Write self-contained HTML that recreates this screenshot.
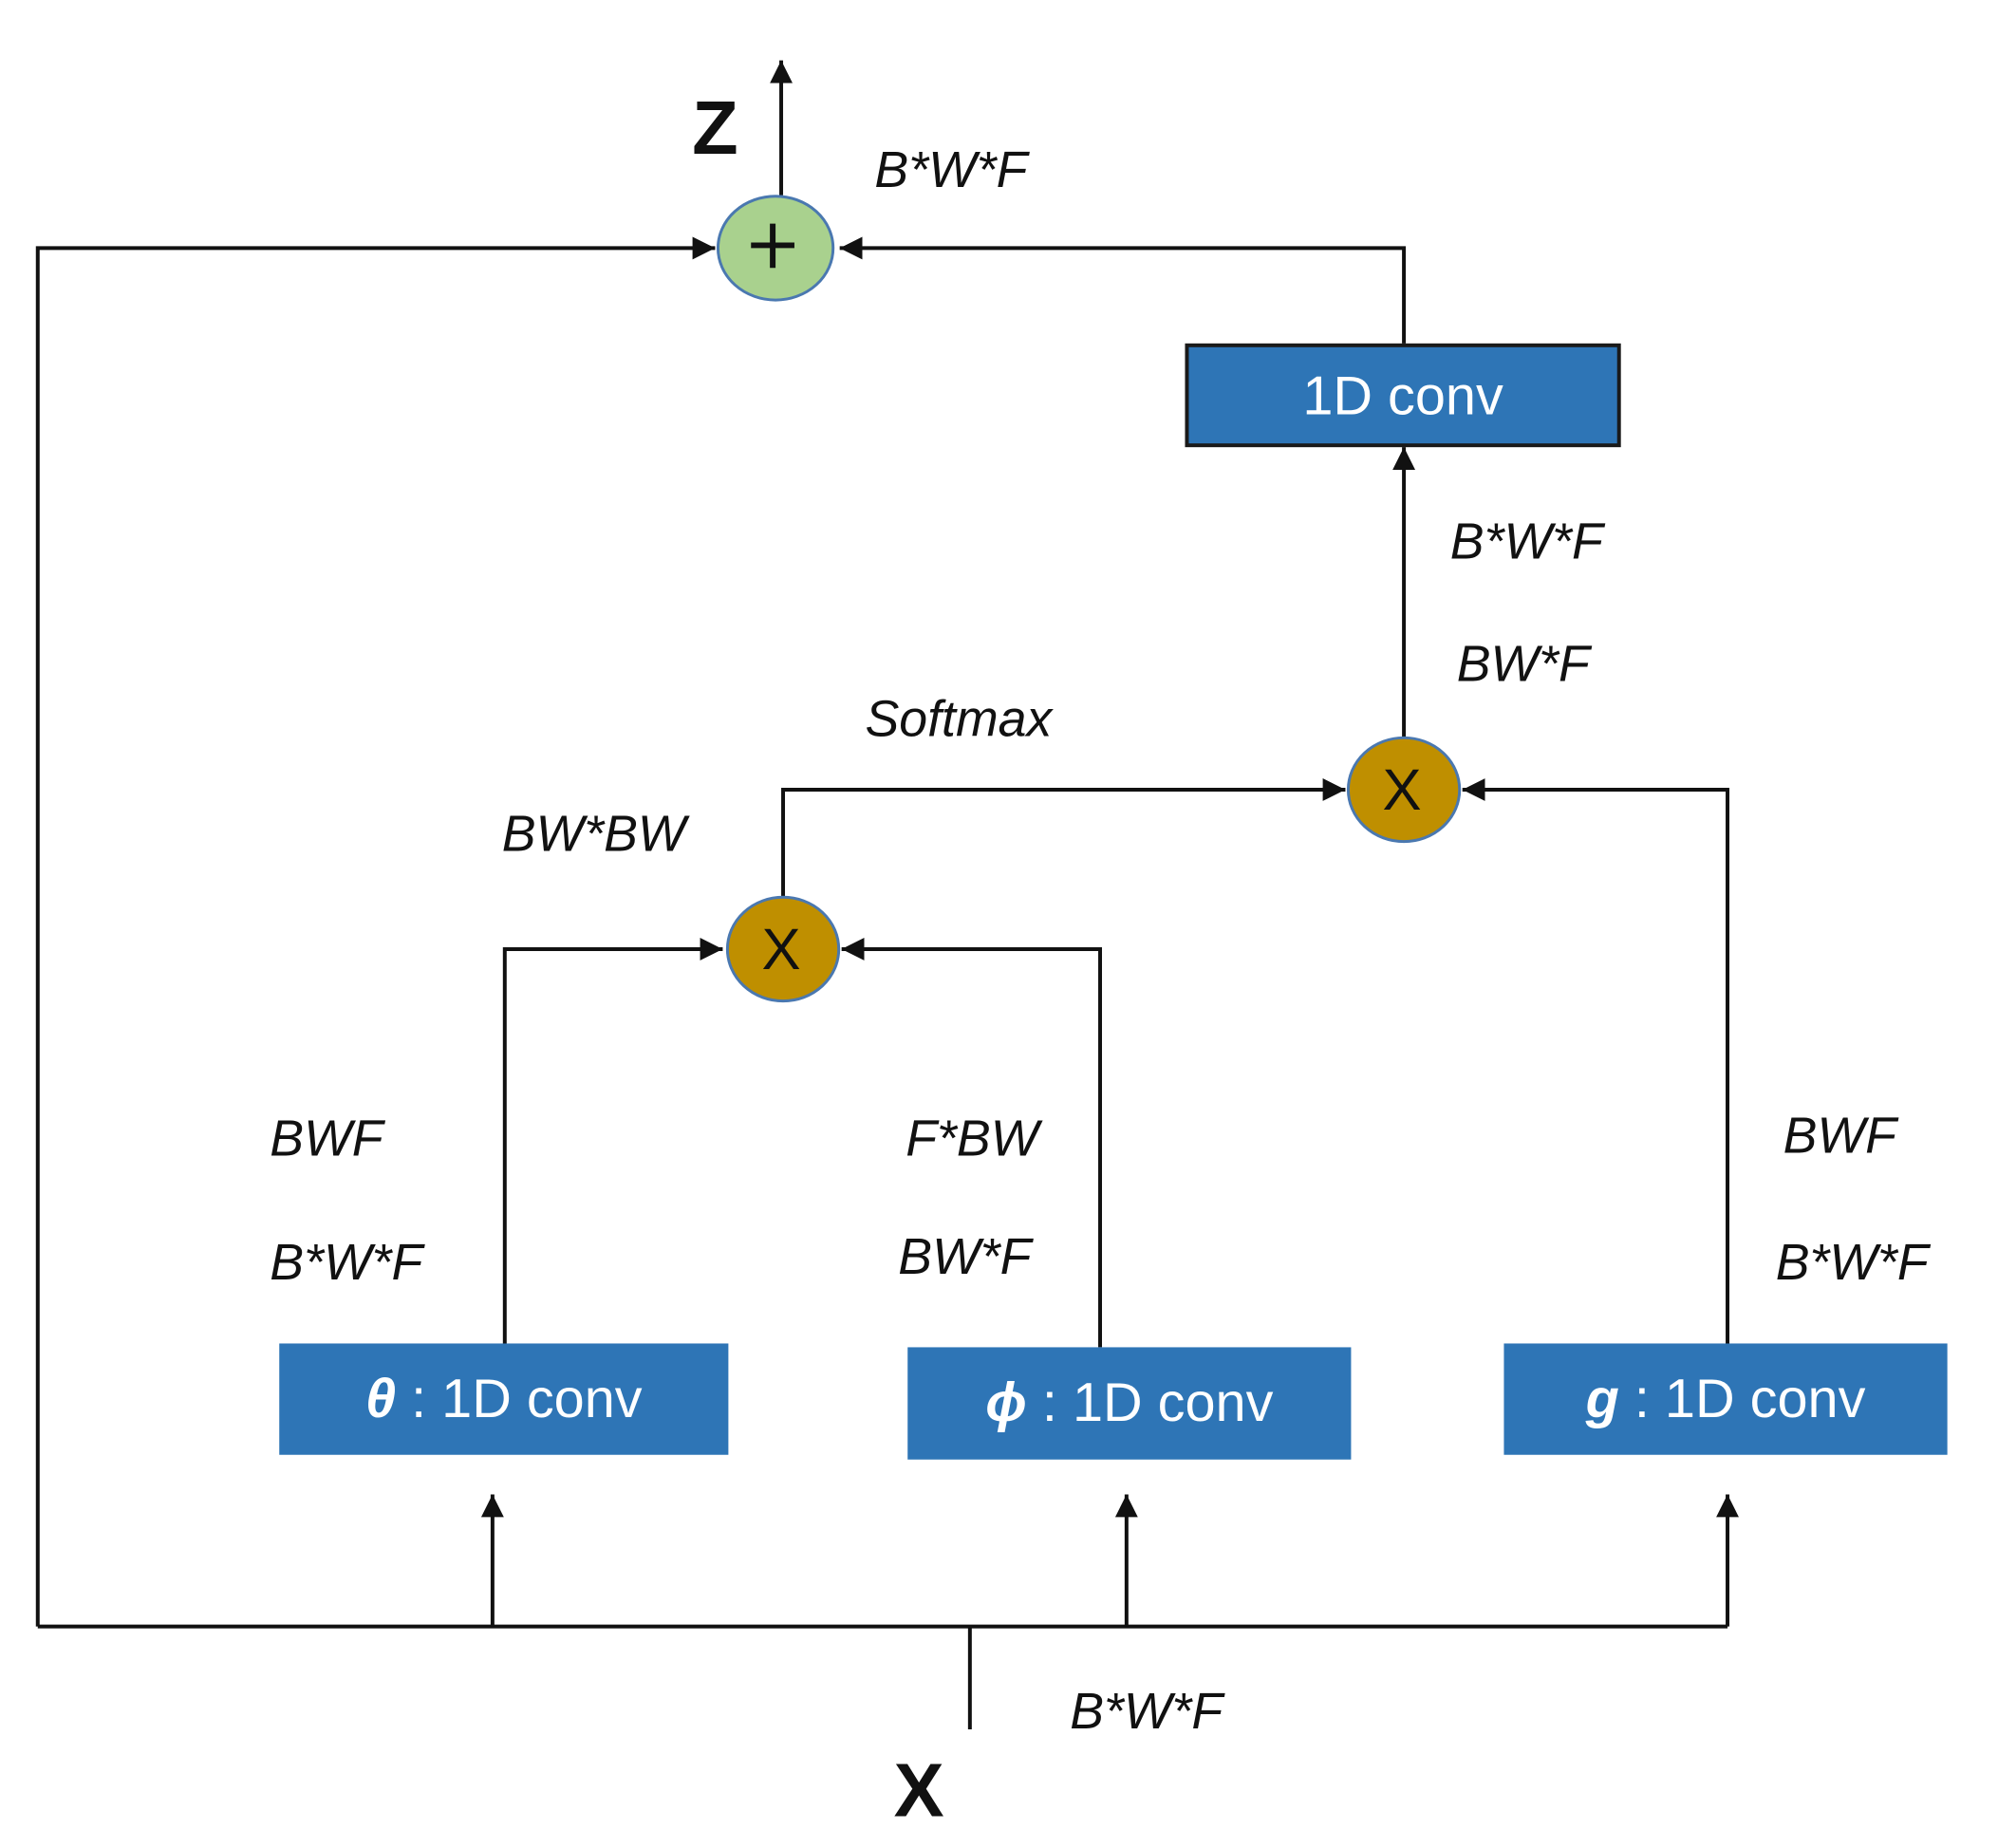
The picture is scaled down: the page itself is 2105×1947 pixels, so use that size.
<!DOCTYPE html>
<html><head><meta charset="utf-8"><style>
html,body{margin:0;padding:0;background:#fff;}
svg{display:block}
.l{font-family:"Liberation Sans",sans-serif;font-style:italic;font-size:54px;fill:#111}
.b{font-family:"Liberation Sans",sans-serif;font-size:58px;fill:#fff}
</style></head><body>
<svg width="2105" height="1947" viewBox="0 0 2105 1947" xmlns="http://www.w3.org/2000/svg">
<defs>
<marker id="h" viewBox="0 0 10 10" refX="10" refY="5" markerWidth="24" markerHeight="24" markerUnits="userSpaceOnUse" orient="auto"><path d="M0,0 L10,5 L0,10z" fill="#111"/></marker></defs>
<g transform="translate(2,0) scale(0.994)">
<g stroke="#111" stroke-width="4" fill="none">
<line x1="826" y1="207" x2="826" y2="64" marker-end="url(#h)"/>
<polyline points="1026,1833 1026,1724"/>
<polyline points="38,1724 1829,1724"/>
<polyline points="38,1724 38,263 756,263" marker-end="url(#h)"/>
<polyline points="1486,364 1486,263 888,263" marker-end="url(#h)"/>
<line x1="1486" y1="783" x2="1486" y2="474" marker-end="url(#h)"/>
<polyline points="828,950 828,837 1424,837" marker-end="url(#h)"/>
<polyline points="1829,1424 1829,837 1548,837" marker-end="url(#h)"/>
<polyline points="533,1424 533,1006 764,1006" marker-end="url(#h)"/>
<polyline points="1164,1428 1164,1006 890,1006" marker-end="url(#h)"/>
<line x1="520" y1="1724" x2="520" y2="1584" marker-end="url(#h)"/>
<line x1="1192" y1="1724" x2="1192" y2="1584" marker-end="url(#h)"/>
<line x1="1829" y1="1724" x2="1829" y2="1584" marker-end="url(#h)"/>
</g>
<ellipse cx="820" cy="263" rx="61" ry="55" fill="#a9d18e" stroke="#4a78b0" stroke-width="3"/>
<line x1="794" y1="260" x2="840" y2="260" stroke="#111" stroke-width="6"/>
<line x1="817" y1="237" x2="817" y2="284" stroke="#111" stroke-width="6"/>
<ellipse cx="1486" cy="837" rx="59" ry="55" fill="#bf8f00" stroke="#4a78b0" stroke-width="3"/>
<text x="1484" y="858" text-anchor="middle" font-family="Liberation Sans,sans-serif" font-size="62" fill="#111">X</text>
<ellipse cx="828" cy="1006" rx="59" ry="55" fill="#bf8f00" stroke="#4a78b0" stroke-width="3"/>
<text x="826" y="1027" text-anchor="middle" font-family="Liberation Sans,sans-serif" font-size="62" fill="#111">X</text>
<rect x="1256" y="366" width="458" height="106" fill="#2e75b6" stroke="#1a1a1a" stroke-width="4"/>
<text class="b" x="1485" y="439" text-anchor="middle">1D conv</text>
<rect x="294" y="1424" width="476" height="118" fill="#2e75b6"/>
<text class="b" x="532" y="1502" text-anchor="middle"><tspan font-style="italic" font-weight="bold">θ</tspan> : 1D conv</text>
<rect x="960" y="1428" width="470" height="119" fill="#2e75b6"/>
<text class="b" x="1195" y="1506" text-anchor="middle"><tspan font-style="italic" font-weight="bold">ϕ</tspan> : 1D conv</text>
<rect x="1592" y="1424" width="470" height="118" fill="#2e75b6"/>
<text class="b" x="1827" y="1502" text-anchor="middle"><tspan font-style="italic" font-weight="bold">g</tspan> : 1D conv</text>
<text x="756" y="163" text-anchor="middle" font-family="Liberation Sans,sans-serif" font-weight="bold" font-size="80" fill="#111">Z</text>
<text x="972" y="1925" text-anchor="middle" font-family="Liberation Sans,sans-serif" font-weight="bold" font-size="80" fill="#111">X</text>
<text class="l" x="925" y="198">B*W*F</text>
<text class="l" x="1535" y="592">B*W*F</text>
<text class="l" x="1542" y="722">BW*F</text>
<text class="l" x="915" y="780">Softmax</text>
<text class="l" x="530" y="902">BW*BW</text>
<text class="l" x="284" y="1225">BWF</text>
<text class="l" x="284" y="1356">B*W*F</text>
<text class="l" x="958" y="1225">F*BW</text>
<text class="l" x="950" y="1350">BW*F</text>
<text class="l" x="1888" y="1222">BWF</text>
<text class="l" x="1880" y="1356">B*W*F</text>
<text class="l" x="1132" y="1832">B*W*F</text>
</g>
</svg>
</body></html>
